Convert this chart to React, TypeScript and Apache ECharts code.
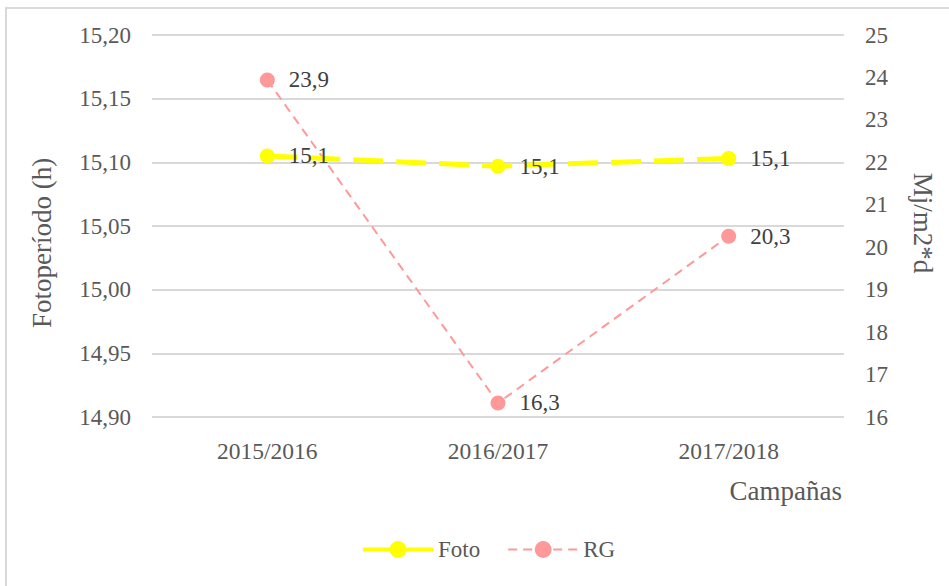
import React, { useEffect, useRef } from "react";
import * as echarts from "echarts";

const categories = ["2015/2016", "2016/2017", "2017/2018"];
const fotoValues = [15.105, 15.097, 15.103];
const rgValues = [23.94, 16.33, 20.26];
const leftMin = 14.9;
const leftMax = 15.2;
const leftInterval = 0.05;
const rightMin = 16;
const rightMax = 25;
const rightInterval = 1;

const FONT = "'Liberation Serif', 'Times New Roman', serif";
const comma = (v: number, d: number) => v.toFixed(d).replace(".", ",");

export default function App() {
  const ref = useRef<HTMLDivElement>(null);
  useEffect(() => {
    document.body.style.margin = "0";
    const chart = echarts.init(ref.current!, null, { renderer: "svg" });
    chart.setOption({
      animation: false,
      backgroundColor: "#ffffff",
      textStyle: { fontFamily: FONT },
      grid: { left: 152, right: 105, top: 35, bottom: 169, containLabel: false },
      legend: {
        top: 533,
        left: 356,
        itemWidth: 70,
        itemHeight: 21,
        itemGap: 27,
        textStyle: { fontFamily: FONT, fontSize: 23, color: "#595959" },
        data: [
          { name: "Foto", lineStyle: { type: "solid", width: 4 } },
          { name: "RG", lineStyle: { type: [9, 6], width: 2 } },
        ],
      },
      xAxis: {
        type: "category",
        data: categories,
        axisLine: { show: false },
        axisTick: { show: false },
        axisLabel: { fontFamily: FONT, fontSize: 23.5, color: "#595959", margin: 22 },
      },
      yAxis: [
        {
          type: "value",
          min: leftMin,
          max: leftMax,
          interval: leftInterval,
          axisLine: { show: false },
          axisTick: { show: false },
          splitLine: { lineStyle: { color: "#d9d9d9", width: 2 } },
          axisLabel: {
            fontFamily: FONT,
            fontSize: 23,
            color: "#595959",
            margin: 21,
            formatter: (v: number) => comma(v, 2),
          },
        },
        {
          type: "value",
          min: rightMin,
          max: rightMax,
          interval: rightInterval,
          axisLine: { show: false },
          axisTick: { show: false },
          splitLine: { show: false },
          axisLabel: {
            fontFamily: FONT,
            fontSize: 23,
            color: "#595959",
            margin: 21,
            formatter: (v: number) => String(v),
          },
        },
      ],
      series: [
        {
          name: "Foto",
          type: "line",
          yAxisIndex: 0,
          data: fotoValues,
          symbol: "circle",
          symbolSize: 15,
          itemStyle: { color: "#FFFF00" },
          lineStyle: { color: "#FFFF00", width: 5, type: [30, 13] },
          label: {
            show: true,
            position: "right",
            distance: 14,
            fontFamily: FONT,
            fontSize: 23,
            color: "#404040",
            formatter: (p: any) => comma(p.value, 1),
          },
          z: 3,
        },
        {
          name: "RG",
          type: "line",
          yAxisIndex: 1,
          data: rgValues,
          symbol: "circle",
          symbolSize: 15,
          itemStyle: { color: "#FF9999" },
          lineStyle: { color: "#FF9999", width: 2, type: [9, 6] },
          label: {
            show: true,
            position: "right",
            distance: 14,
            fontFamily: FONT,
            fontSize: 23,
            color: "#404040",
            formatter: (p: any) => comma(p.value, 1),
          },
          z: 2,
        },
      ],
      graphic: [
        {
          type: "rect",
          shape: { x: 6, y: 8, width: 980, height: 620 },
          style: { fill: "none", stroke: "#d9d9d9", lineWidth: 2 },
          silent: true,
        },
        {
          type: "text",
          x: 42,
          y: 243,
          rotation: Math.PI / 2,
          style: {
            text: "Fotoperíodo (h)",
            font: "27px " + FONT,
            fill: "#595959",
            align: "center",
            verticalAlign: "middle",
          },
        },
        {
          type: "text",
          x: 923,
          y: 223,
          rotation: -Math.PI / 2,
          style: {
            text: "Mj/m2*d",
            font: "27px " + FONT,
            fill: "#595959",
            align: "center",
            verticalAlign: "middle",
          },
        },
        {
          type: "text",
          x: 842,
          y: 491,
          style: {
            text: "Campañas",
            font: "27px " + FONT,
            fill: "#595959",
            align: "right",
            verticalAlign: "middle",
          },
        },
      ],
    });
    return () => chart.dispose();
  }, []);
  return <div ref={ref} style={{ width: 949, height: 586 }} />;
}
